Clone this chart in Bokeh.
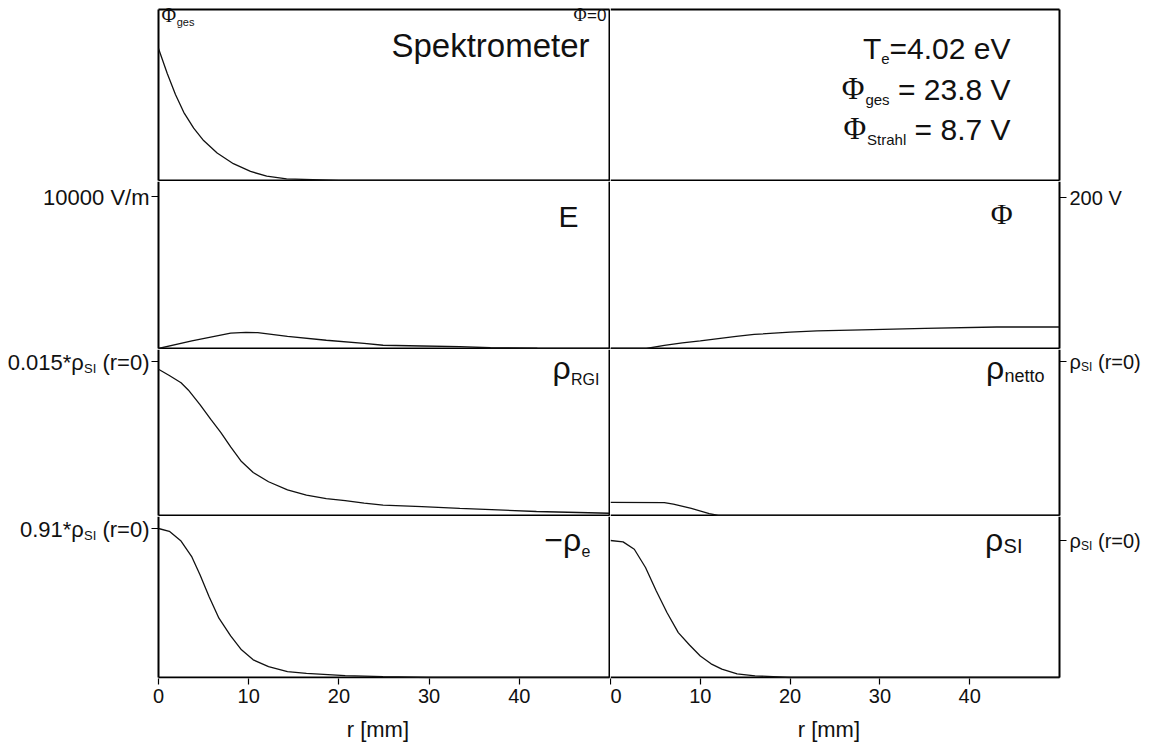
from bokeh.plotting import figure
from bokeh.layouts import gridplot
from bokeh.models import Range1d, Label, FixedTicker, Title
from bokeh.embed import file_html
from bokeh.resources import INLINE

# ---------------- data ----------------
# top-left panel: total potential Phi_ges [V] vs r [mm]
r_phi_ges = [0, 0.96, 1.88, 2.8, 3.9, 5.0, 6.5, 8.3, 10.2, 12.0, 14.2, 20, 30, 40, 50]
phi_ges = [23.8, 19.35, 15.5, 12.3, 9.44, 7.2, 4.95, 3.03, 1.63, 0.8, 0.3, 0, 0, 0, 0]

# electric field E [V/m]
r_field = [0, 3.7, 8.0, 9.7, 11.0, 14.3, 18.6, 22.8, 24.9, 29.2, 33.4, 36.8, 42, 50]
e_field = [0, 500, 1017, 1064, 1040, 804, 544, 331, 213, 165, 118, 50, 20, 10]

# potential Phi [V]
r_phi = [0, 4, 6, 8, 10, 14, 16, 20, 23, 28, 35, 43, 50]
phi = [0, 0, 4.2, 7.5, 10, 16, 18.6, 21.6, 23.4, 24.8, 26.7, 28.5, 28.5]

# rho_RGI in units of rho_SI(r=0)
r_rgi = [0, 1.2, 2.5, 3.3, 4.6, 5.8, 6.9, 8.0, 9.2, 10.5, 12.2, 14.3, 16.4, 18.6,
         20.7, 22.8, 24.9, 29.2, 33.4, 37.6, 41.9, 50]
rho_rgi = [0.01425, 0.01364, 0.01293, 0.01223, 0.0108, 0.00936, 0.0081, 0.00668,
           0.00525, 0.00419, 0.00329, 0.0025, 0.00198, 0.00164, 0.00144, 0.0012,
           0.00102, 0.00087, 0.0007, 0.00055, 0.00039, 0.00022]

# rho_netto in units of rho_SI(r=0)
r_netto = [0, 6, 7, 9, 11, 12, 50]
rho_netto = [0.085, 0.084, 0.074, 0.046, 0.012, 0, 0]

# -rho_e in units of rho_SI(r=0)
r_e = [0, 1.2, 2.5, 3.7, 4.6, 5.6, 6.7, 8.0, 9.2, 10.5, 12.2, 14.3, 16.4, 20.7, 24.9, 30, 50]
rho_e = [0.91, 0.893, 0.833, 0.736, 0.628, 0.495, 0.362, 0.254, 0.169, 0.108, 0.066,
         0.036, 0.025, 0.012, 0.005, 0, 0]

# rho_SI in units of rho_SI(r=0)
r_si = [0, 1.4, 2.65, 3.9, 5.1, 6.3, 7.55, 8.8, 10, 11.2, 12.4, 14.1, 16.1, 20, 50]
rho_si = [1.0, 0.99, 0.936, 0.803, 0.632, 0.473, 0.328, 0.237, 0.157, 0.1, 0.061,
          0.027, 0.012, 0, 0]

x_ticks = [0, 10, 20, 30, 40]
y_ticks = [[None, None], [10000, 200], [0.015, 1.0], [0.91, 1.0]]

# ---------------- layout (pixels) ----------------
X0 = {0: 158, 1: 610}          # pixel of r = 0
X1 = {0: 609, 1: 1059}         # pixel of r = 50
FIG_W = {0: 610, 1: 552}
FRAME_TOP = [0, 181, 349, 516]
FRAME_BOT = [181, 349, 516, 678]
PANEL_TOP = [9, 180, 348, 515]
PANEL_BOT = [180, 348, 515, 677]
BOTTOM_BORDER = 74
TICK_PY = [[None, None], [196, 197], [361, 361], [528, 540]]
PHI_GES_TOP_PY = 48            # where Phi_ges(0) sits
XMAX = 50

SANS = "Liberation Sans"
SERIF = "Liberation Serif"
INK = "#111111"

CW = {' ': .278, '(': .333, ')': .333, '*': .389, '.': .278, '=': .584, '/': .278,
      'E': .667, 'G': .778, 'I': .278, 'R': .722, 'S': .667, 'T': .611, 'V': .667,
      'a': .556, 'e': .556, 'g': .556, 'h': .556, 'k': .5, 'l': .222, 'm': .833,
      'n': .556, 'o': .556, 'p': .556, 'r': .333, 's': .5, 't': .278,
      'ρ': .58, '−': .584, 'Φ': .76}


def tw(text, size):
    return sum(CW.get(c, .556) for c in text) * size


def panel_ymax(row, col):
    if row == 0:
        return phi_ges[0] * (PANEL_BOT[0] - PANEL_TOP[0]) / (PANEL_BOT[0] - PHI_GES_TOP_PY) if col == 0 else 1.0
    t = y_ticks[row][col]
    return t * (PANEL_BOT[row] - PANEL_TOP[row]) / (PANEL_BOT[row] - TICK_PY[row][col])


def dx(col, px):
    return (px - X0[col]) / (X1[col] - X0[col]) * XMAX


def dy(row, col, py):
    return panel_ymax(row, col) * (PANEL_BOT[row] - py) / (PANEL_BOT[row] - PANEL_TOP[row])


def put(p, row, col, segs, px, base, align="left"):
    """segs: (text, size, font, baseline shift in px downwards)"""
    total = sum(tw(t, s) for t, s, f, d in segs)
    x = px - total if align == "right" else px
    for t, s, f, d in segs:
        body = t.lstrip(" ")
        x += (len(t) - len(body)) * CW[" "] * s
        p.add_layout(Label(x=dx(col, x), y=dy(row, col, base + d - 0.34 * s), text=body,
                           text_font=f, text_font_size=f"{s}px", text_color=INK,
                           text_align="left", text_baseline="alphabetic"))
        x += tw(body, s)


def make(row, col):
    bot = BOTTOM_BORDER if row == 3 else 0
    p = figure(width=FIG_W[col], height=FRAME_BOT[row] - FRAME_TOP[row] + bot,
               x_range=Range1d(dx(col, 0 if col == 0 else 610),
                               dx(col, 610 if col == 0 else 1162)),
               y_range=Range1d(dy(row, col, FRAME_BOT[row]), dy(row, col, FRAME_TOP[row])),
               output_backend="svg", toolbar_location=None,
               min_border=0, min_border_bottom=bot,
               x_axis_location="below" if row == 3 else None,
               y_axis_location=None)
    p.outline_line_color = None
    p.grid.grid_line_color = None
    p.background_fill_color = "white"
    p.border_fill_color = "white"
    # panel box: each shared edge is drawn once, inside one figure
    yt = dy(row, col, PANEL_TOP[row] if row == 0 else FRAME_TOP[row])
    xs0, ys0, xs1, ys1 = [0], [0], [XMAX], [0]            # bottom edge
    if col == 0:
        xs0 += [0, XMAX]; ys0 += [0, 0]; xs1 += [0, XMAX]; ys1 += [yt, yt]
    else:
        xs0 += [XMAX]; ys0 += [0]; xs1 += [XMAX]; ys1 += [yt]
    if row == 0:
        xs0 += [0]; ys0 += [yt]; xs1 += [XMAX]; ys1 += [yt]
    p.segment(x0=xs0, y0=ys0, x1=xs1, y1=ys1, line_color="black", line_width=2)
    # y tick mark
    if row > 0:
        t = y_ticks[row][col]
        edge = 0 if col == 0 else XMAX
        out = dx(col, X0[col] - 7) if col == 0 else dx(col, X1[col] + 7)
        p.segment(x0=[edge], y0=[t], x1=[out], y1=[t], line_color="black", line_width=1.2)
    if row == 3:
        ax = p.xaxis[0]
        ax.ticker = FixedTicker(ticks=x_ticks)
        ax.axis_line_color = None
        ax.major_tick_out = 6
        ax.major_tick_in = 0
        ax.minor_tick_out = 0
        ax.minor_tick_in = 0
        ax.major_tick_line_color = "black"
        ax.major_tick_line_width = 1.2
        ax.major_label_text_font = SANS
        ax.major_label_text_font_size = "20px"
        ax.major_label_text_color = INK
        ax.major_label_standoff = 4
        lbl_w = tw("r [mm]", 22)
        center = (X0[col] + X1[col]) / 2 - (0 if col == 0 else 610)
        p.add_layout(Title(text="r [mm]", align="left", offset=center - lbl_w / 2,
                           text_font=SANS, text_font_size="22px", text_font_style="normal",
                           text_color=INK, standoff=18), "below")
    return p


LW = 1.3
figs = [[make(r, c) for c in range(2)] for r in range(4)]

# row 1
p = figs[0][0]
p.line(r_phi_ges, phi_ges, line_color=INK, line_width=LW)
put(p, 0, 0, [("Φ", 20, SERIF, 0), ("ges", 11, SANS, 4)], 161, 21)
put(p, 0, 0, [("Φ", 18, SERIF, 0), ("=0", 17, SANS, 0)], 606, 21, "right")
put(p, 0, 0, [("Spektrometer", 33, SANS, 0)], 589, 56, "right")
p = figs[0][1]
put(p, 0, 1, [("T", 30, SANS, 0), ("e", 15, SANS, 6), ("=4.02 eV", 30, SANS, 0)], 1010, 58, "right")
put(p, 0, 1, [("Φ", 31, SERIF, 0), ("ges", 15, SANS, 5), (" = 23.8 V", 30, SANS, 0)], 1010, 99, "right")
put(p, 0, 1, [("Φ", 31, SERIF, 0), ("Strahl", 15, SANS, 5), (" = 8.7 V", 30, SANS, 0)], 1010, 139, "right")

# row 2
p = figs[1][0]
p.line(r_field, e_field, line_color=INK, line_width=LW)
put(p, 1, 0, [("E", 30, SANS, 0)], 578, 226, "right")
put(p, 1, 0, [("10000 V/m", 22, SANS, 0)], 149, TICK_PY[1][0] + 8, "right")
p = figs[1][1]
p.line(r_phi, phi, line_color=INK, line_width=LW)
put(p, 1, 1, [("Φ", 30, SERIF, 0)], 1013, 223, "right")
put(p, 1, 1, [("200 V", 20, SANS, 0)], 1069, TICK_PY[1][1] + 7)

# row 3
p = figs[2][0]
p.line(r_rgi, rho_rgi, line_color=INK, line_width=LW)
put(p, 2, 0, [("ρ", 32, SANS, 0), ("RGI", 16, SANS, 6)], 599, 378, "right")
put(p, 2, 0, [("0.015*ρ", 22, SANS, 0), ("SI", 13, SANS, 3), (" (r=0)", 22, SANS, 0)],
    149, TICK_PY[2][0] + 8, "right")
p = figs[2][1]
p.line(r_netto, rho_netto, line_color=INK, line_width=LW)
put(p, 2, 1, [("ρ", 32, SANS, 0), ("netto", 18, SANS, 4)], 1044, 378, "right")
put(p, 2, 1, [("ρ", 20, SANS, 0), ("SI", 12, SANS, 3), (" (r=0)", 20, SANS, 0)],
    1069, TICK_PY[2][1] + 7)

# row 4
p = figs[3][0]
p.line(r_e, rho_e, line_color=INK, line_width=LW)
put(p, 3, 0, [("−ρ", 32, SANS, 0), ("e", 16, SANS, 6)], 590, 550, "right")
put(p, 3, 0, [("0.91*ρ", 22, SANS, 0), ("SI", 13, SANS, 3), (" (r=0)", 22, SANS, 0)],
    149, TICK_PY[3][0] + 8, "right")
p = figs[3][1]
p.line(r_si, rho_si, line_color=INK, line_width=LW)
put(p, 3, 1, [("ρ", 32, SANS, 0), ("SI", 20, SANS, 2)], 1022, 550, "right")
put(p, 3, 1, [("ρ", 20, SANS, 0), ("SI", 12, SANS, 3), (" (r=0)", 20, SANS, 0)],
    1069, TICK_PY[3][1] + 7)

grid = gridplot(figs, toolbar_location=None)
open("out.html", "w").write(file_html(grid, INLINE))
